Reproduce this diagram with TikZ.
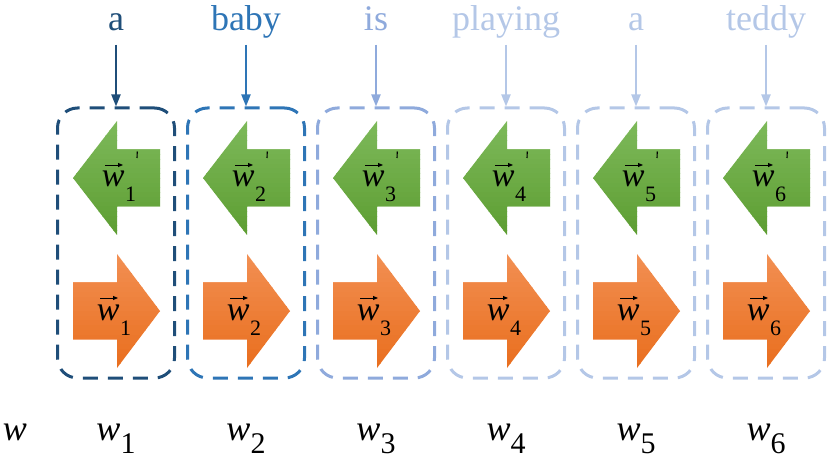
\documentclass[tikz,border=0pt]{standalone}
\usepackage{fontspec}
\newfontfamily\libser{Liberation Serif}
\usetikzlibrary{arrows.meta}
\definecolor{cA}{HTML}{1F4E79}
\definecolor{cB}{HTML}{2E75B6}
\definecolor{cC}{HTML}{8FAADC}
\definecolor{cD}{HTML}{B4C7E7}
\definecolor{gTop}{HTML}{7DB95A}
\definecolor{gBot}{HTML}{5E9E33}
\definecolor{oTop}{HTML}{F28F52}
\definecolor{oBot}{HTML}{E96F1F}
% w with subscript (vector arrow and prime drawn separately)
\newcommand{\vw}[1]{{\libser\fontsize{34}{34}\selectfont\itshape w}\kern0.5pt\raisebox{-15pt}{\libser\fontsize{22}{22}\selectfont #1}}
\newcommand{\plw}[1]{{\libser\fontsize{36}{36}\selectfont\itshape w}\raisebox{-13pt}{\libser\fontsize{30}{30}\selectfont #1}}
\tikzset{
  wordlab/.style={anchor=base, inner sep=0pt},
  feed/.style={line width=2pt, -{Triangle[length=12pt,width=9pt]}},
  vecarrow/.style={line width=0.9pt, -{Triangle[length=5pt,width=4pt]}},
  primetick/.style={line width=1.1pt},
  groupbox/.style={line width=3pt, dash pattern=on 15pt off 10pt, rounded corners=20pt},
  vlab/.style={anchor=base, inner sep=0pt},
  botlab/.style={anchor=base, inner sep=0pt}
}
\begin{document}
\begin{tikzpicture}[x=1pt,y=-1pt]
\useasboundingbox (0,0) rectangle (830,462);
\foreach \i/\word/\col in {1/a/cA, 2/baby/cB, 3/is/cC, 4/playing/cD, 5/a/cD, 6/teddy/cD}{
  \pgfmathsetmacro{\cx}{116+130*(\i-1)}
  \node[wordlab, text=\col] (word\i) at (\cx,31) {\libser\fontsize{36}{36}\selectfont \word};
  \coordinate (fs\i) at (\cx,45);
  \node[draw=\col, groupbox, minimum width=117pt, minimum height=270pt, inner sep=0pt] (box\i) at (\cx,243) {};
  \draw[feed, draw=\col, fill=\col] (fs\i) -- (box\i.north);
  % green backward arrow with banded vertical gradient
  \begin{scope}
    \clip (\cx-43,178) -- (\cx+1,121) -- (\cx+1,149.5) -- (\cx+44,149.5)
       -- (\cx+44,206.5) -- (\cx+1,206.5) -- (\cx+1,235) -- cycle;
    \foreach \k in {0,...,23}{
      \pgfmathtruncatemacro{\pct}{100-\k*100/23}
      \fill[gTop!\pct!gBot] (\cx-45,121+\k*4.75) rectangle (\cx+46,121+\k*4.75+5.3);
    }
  \end{scope}
  \node[vlab] (bw\i) at (\cx+3,187) {\vw{\i}};
  \coordinate (bva\i) at (\cx-11,165);
  \coordinate (bvb\i) at (\cx+7,165);
  \draw[vecarrow] (bva\i) -- (bvb\i);
  \coordinate (pa\i) at (\cx+21.3,151.5);
  \coordinate (pb\i) at (\cx+21,158);
  \draw[primetick] (pa\i) -- (pb\i);
  % orange forward arrow
  \begin{scope}
    \clip (\cx-43,282.5) -- (\cx+1,282.5) -- (\cx+1,254) -- (\cx+44,311)
       -- (\cx+1,368) -- (\cx+1,339.5) -- (\cx-43,339.5) -- cycle;
    \foreach \k in {0,...,23}{
      \pgfmathtruncatemacro{\pct}{100-\k*100/23}
      \fill[oTop!\pct!oBot] (\cx-45,254+\k*4.75) rectangle (\cx+46,254+\k*4.75+5.3);
    }
  \end{scope}
  \node[vlab] (fw\i) at (\cx-2,320) {\vw{\i}};
  \coordinate (fva\i) at (\cx-16,298);
  \coordinate (fvb\i) at (\cx+2,298);
  \draw[vecarrow] (fva\i) -- (fvb\i);
  \node[botlab] (w\i) at (\cx,440) {\plw{\i}};
}
\node[botlab] (w0) at (15,440) {\libser\fontsize{36}{36}\selectfont\itshape w};
\end{tikzpicture}
\end{document}
